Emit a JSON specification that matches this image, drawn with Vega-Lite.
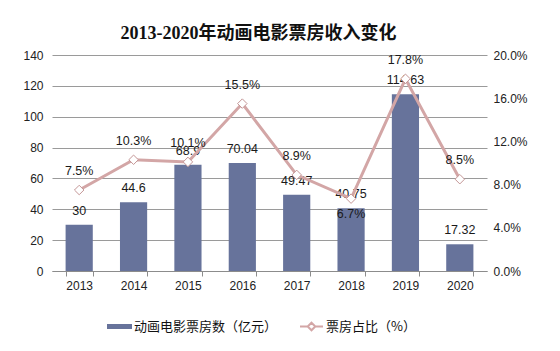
{
  "$schema": "https://vega.github.io/schema/vega-lite/v6.json",
  "width": 435,
  "height": 216,
  "autosize": {"type": "none"},
  "padding": {"left": 52, "top": 55, "right": 73, "bottom": 80},
  "background": "white",
  "title": {
    "text": "2013-2020年动画电影票房收入变化",
    "font": "Liberation Serif, Noto Sans CJK SC",
    "fontSize": 18,
    "fontWeight": "bold",
    "color": "#111111",
    "anchor": "middle",
    "dx": -11,
    "offset": 6
  },
  "config": {
    "view": {"stroke": null},
    "font": "Liberation Sans, Noto Sans CJK SC",
    "axis": {"labelFont": "Liberation Sans", "labelFontSize": 12, "labelColor": "#222222", "titleFontSize": 12}
  },
  "data": {
    "values": [
      {"year": "2013", "box": 30, "share": 0.075},
      {"year": "2014", "box": 44.6, "share": 0.103},
      {"year": "2015", "box": 68.9, "share": 0.101},
      {"year": "2016", "box": 70.04, "share": 0.155},
      {"year": "2017", "box": 49.47, "share": 0.089},
      {"year": "2018", "box": 40.75, "share": 0.067},
      {"year": "2019", "box": 114.63, "share": 0.178},
      {"year": "2020", "box": 17.32, "share": 0.085}
    ]
  },
  "encoding": {
    "x": {
      "field": "year",
      "type": "nominal",
      "sort": null,
      "scale": {"paddingInner": 0.5, "paddingOuter": 0.25},
      "axis": {
        "title": null,
        "labelAngle": 0,
        "domainColor": "#8c8c8c",
        "tickColor": "#8c8c8c",
        "tickBand": "extent",
        "tickSize": 5,
        "labelPadding": 4,
        "grid": false
      }
    }
  },
  "layer": [
    {
      "encoding": {
        "y": {
          "field": "box",
          "type": "quantitative",
          "scale": {"domain": [0, 140]},
          "axis": {
            "title": null,
            "values": [0, 20, 40, 60, 80, 100, 120, 140],
            "domain": false,
            "ticks": false,
            "labelPadding": 9,
            "grid": true,
            "gridColor": "#9a9a9a",
            "gridWidth": 1
          }
        }
      },
      "layer": [
        {
          "mark": {"type": "bar", "color": "#67739B"},
          "encoding": {
            "fill": {
              "datum": "动画电影票房数（亿元）",
              "scale": {"range": ["#67739B"]},
              "legend": {
                "title": null,
                "orient": "none",
                "legendX": 55,
                "legendY": 259,
                "symbolType": "M-1,-0.2H1V0.2H-1Z",
                "symbolSize": 625,
                "symbolStrokeWidth": 0,
                "labelFontSize": 13,
                "labelFont": "Noto Sans CJK SC",
                "labelColor": "#111111",
                "labelOffset": 2
              }
            }
          }
        },
        {
          "mark": {"type": "text", "baseline": "bottom", "dy": -7, "fontSize": 12.5, "color": "#1a1a1a"},
          "encoding": {
            "text": {"field": "box", "type": "quantitative"}
          }
        }
      ]
    },
    {
      "encoding": {
        "y": {
          "field": "share",
          "type": "quantitative",
          "scale": {"domain": [0, 0.2]},
          "axis": {
            "title": null,
            "orient": "right",
            "format": ".1%",
            "values": [0, 0.04, 0.08, 0.12, 0.16, 0.2],
            "domain": false,
            "ticks": false,
            "grid": false,
            "labelPadding": 6
          }
        }
      },
      "layer": [
        {
          "mark": {"type": "line", "strokeWidth": 3},
          "encoding": {
            "stroke": {
              "datum": "票房占比（%）",
              "scale": {"range": ["#D3A6A6"]},
              "legend": {
                "title": null,
                "orient": "none",
                "legendX": 247,
                "legendY": 259,
                "symbolType": "M-1,0H-0.33M0.33,0H1M-0.33,0L0,-0.33L0.33,0L0,0.33Z",
                "symbolSize": 529,
                "symbolStrokeWidth": 2,
                "symbolFillColor": "white",
                "labelFontSize": 13,
                "labelFont": "Noto Sans CJK SC",
                "labelColor": "#111111",
                "labelOffset": 2
              }
            }
          }
        },
        {
          "mark": {"type": "point", "shape": "diamond", "filled": true, "fill": "white", "stroke": "#C49696", "strokeWidth": 1, "size": 90, "opacity": 1}
        },
        {
          "transform": [{"filter": "datum.year != '2018'"}],
          "mark": {"type": "text", "baseline": "bottom", "dy": -12, "fontSize": 12.5, "color": "#1a1a1a"},
          "encoding": {
            "text": {"field": "share", "type": "quantitative", "format": ".1%"}
          }
        },
        {
          "transform": [{"filter": "datum.year == '2018'"}],
          "mark": {"type": "text", "baseline": "top", "dy": 9, "fontSize": 12.5, "color": "#1a1a1a"},
          "encoding": {
            "text": {"field": "share", "type": "quantitative", "format": ".1%"}
          }
        }
      ]
    }
  ],
  "resolve": {"scale": {"y": "independent"}}
}
